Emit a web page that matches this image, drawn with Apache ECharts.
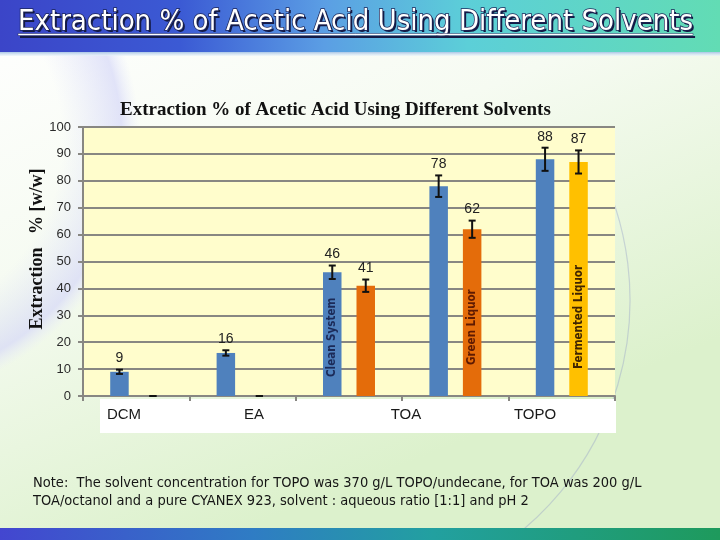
<!DOCTYPE html>
<html>
<head>
<meta charset="utf-8">
<script src="https://cdn.jsdelivr.net/npm/echarts@6/dist/echarts.min.js"></script>
<style>
  html, body { margin: 0; padding: 0; }
  #main { width: 720px; height: 540px; }
</style>
</head>
<body>
<div id="main"></div>
<script>
// ? 数据
const groups = ['DCM', 'EA', 'TOA-1', 'TOA-2', 'TOPO']
const axisLabels = ['DCM', 'EA', 'TOA', 'TOPO']
const firstBar = [9, 16, 46, 78, 88]
const firstErr = [0.8, 1, 2.5, 4, 4.3]
const secondBar = [0, 0, 41, 62, 87]
const secondErr = [0, 0, 2.3, 3.2, 4.3]
const firstNotes = ['', '', 'Clean System', '', '']
const secondNotes = ['', '', '', 'Green Liquor', 'Fermented Liquor']

const pageTitle = 'Extraction % of Acetic Acid Using Different Solvents'
const chartTitle = 'Extraction % of Acetic Acid Using Different Solvents'
const yName = 'Extraction   % [w/w]'
const noteLines = [
  'Note:  The solvent concentration for TOPO was 370 g/L TOPO/undecane, for TOA was 200 g/L',
  'TOA/octanol and a pure CYANEX 923, solvent : aqueous ratio [1:1] and pH 2'
]

// 样式
const BLUE = '#4F81BD'
const ORANGE = '#E46C0A'
const YELLOW = '#FFC000'
const GRID_GRAY = '#888782'
const BAR_W = 18.5
const GAP = 0.81
const OFFSET = (BAR_W + BAR_W * GAP) / 2
const narrow = '"Liberation Sans Narrow", "DejaVu Sans Condensed", sans-serif'
const serif = '"Liberation Serif", "Times New Roman", serif'

// 每根柱子里的竖排文字
const noteStyle = {
  'Clean System': { color: '#1B2A58', distance: 19 },
  'Green Liquor': { color: '#5E1A02', distance: 31 },
  'Fermented Liquor': { color: '#3F2400', distance: 27 }
}

function barData(values, notes, colorFn) {
  return values.map((v, i) => {
    const item = { value: v, itemStyle: { color: colorFn(i) } }
    if (notes[i]) {
      const s = noteStyle[notes[i]]
      item.label = {
        show: true,
        formatter: notes[i],
        position: 'insideBottom',
        rotate: 90,
        align: 'left',
        verticalAlign: 'middle',
        distance: s.distance,
        color: s.color,
        fontFamily: narrow,
        fontWeight: 'bold',
        fontSize: 11.5
      }
    }
    return item
  })
}

function errorSeries(values, errs, offset) {
  return {
    type: 'custom',
    z: 5,
    silent: true,
    data: values.map((v, i) => [i, v, errs[i]]),
    renderItem(params, api) {
      const i = api.value(0)
      const v = api.value(1)
      const e = api.value(2)
      const top = api.coord([i, v + e])
      const bot = api.coord([i, v - e])
      const x = top[0] + offset
      const st = { stroke: '#111', lineWidth: 2 }
      const children = [
        { type: 'line', shape: { x1: x, y1: top[1], x2: x, y2: bot[1] }, style: st },
        { type: 'line', shape: { x1: x - 3.5, y1: top[1], x2: x + 3.5, y2: top[1] }, style: st },
        { type: 'line', shape: { x1: x - 3.5, y1: bot[1], x2: x + 3.5, y2: bot[1] }, style: st }
      ]
      if (v > 0) {
        children.push({
          type: 'text',
          style: {
            text: String(v), x: x, y: top[1] - 11,
            align: 'center', verticalAlign: 'middle',
            font: '14px "Liberation Sans", Arial, sans-serif', fill: '#222'
          }
        })
      }
      return { type: 'group', children }
    }
  }
}

// ? 文字宽度
const ctx = document.createElement('canvas').getContext('2d')
const headFont = '29px ' + narrow
ctx.font = headFont
const headW = ctx.measureText(pageTitle).width

let myChart = echarts.init(document.querySelector('#main'))

myChart.setOption({
  animation: false,
  backgroundColor: {
    type: 'linear', x: 0, y: 0, x2: 0.3, y2: 1,
    colorStops: [
      { offset: 0, color: '#ffffff' },
      { offset: 0.45, color: '#f6fbf2' },
      { offset: 1, color: '#dcf1cc' }
    ]
  },
  title: {
    text: chartTitle,
    left: 115,
    top: 96,
    textStyle: { fontFamily: serif, fontWeight: 'bold', fontSize: 19, color: '#111' }
  },
  grid: {
    left: 83, top: 127, width: 532, height: 269,
    show: true, backgroundColor: '#FFFDCC', borderWidth: 0
  },
  xAxis: {
    type: 'category',
    data: groups,
    axisLine: { lineStyle: { color: GRID_GRAY, width: 2 } },
    axisTick: { show: true, length: 5, lineStyle: { color: GRID_GRAY, width: 2 } },
    axisLabel: { show: false }
  },
  yAxis: {
    type: 'value',
    min: 0, max: 100, interval: 10,
    axisLine: { show: true, lineStyle: { color: GRID_GRAY, width: 2 } },
    axisTick: { show: true, length: 5, lineStyle: { color: GRID_GRAY, width: 2 } },
    axisLabel: { margin: 12, fontFamily: '"Liberation Sans", Arial, sans-serif', fontSize: 13, color: '#2a2a2a' },
    splitLine: { lineStyle: { color: GRID_GRAY, width: 2 } }
  },
  series: [
    {
      type: 'bar', barWidth: BAR_W, barGap: (GAP * 100) + '%',
      data: barData(firstBar, firstNotes, () => BLUE)
    },
    {
      type: 'bar', barWidth: BAR_W,
      data: barData(secondBar, secondNotes, i => (i === secondBar.length - 1 ? YELLOW : ORANGE))
    },
    errorSeries(firstBar, firstErr, -OFFSET),
    errorSeries(secondBar, secondErr, OFFSET)
  ],
  graphic: [
    // 左上角淡紫色
    {
      type: 'circle', z: -10, silent: true,
      shape: { cx: -120, cy: 140, r: 260 },
      style: {
        fill: {
          type: 'radial', x: 0.5, y: 0.5, r: 0.5,
          colorStops: [{ offset: 0.7, color: 'rgba(220,222,250,0)' }, { offset: 0.93, color: 'rgba(214,216,248,0.7)' }, { offset: 1, color: 'rgba(230,232,252,0)' }]
        }
      }
    },
    {
      type: 'arc', z: -10, silent: true,
      shape: { cx: 330, cy: 300, r: 300, startAngle: -0.5, endAngle: 1.1 },
      style: { fill: 'none', stroke: 'rgba(150,160,200,0.4)', lineWidth: 1.2 }
    },
    // 顶部标题栏
    {
      type: 'rect', z: 10, silent: true,
      shape: { x: 0, y: 0, width: 720, height: 52 },
      style: {
        fill: {
          type: 'linear', x: 0, y: 0, x2: 1, y2: 0,
          colorStops: [
            { offset: 0, color: '#3b45c8' },
            { offset: 0.25, color: '#3b5ad4' },
            { offset: 0.45, color: '#5b9ee4' },
            { offset: 0.65, color: '#5ccfd8' },
            { offset: 1, color: '#62dcb4' }
          ]
        }
      }
    },
    {
      type: 'rect', z: 10, silent: true,
      shape: { x: 0, y: 52, width: 720, height: 4 },
      style: {
        fill: {
          type: 'linear', x: 0, y: 0, x2: 0, y2: 1,
          colorStops: [{ offset: 0, color: '#aac6e6' }, { offset: 1, color: 'rgba(235,245,250,0.6)' }]
        }
      }
    },
    {
      type: 'text', z: 11, silent: true,
      style: { text: pageTitle, x: 20, y: 24, font: headFont, fill: '#141a44', verticalAlign: 'middle' }
    },
    {
      type: 'rect', z: 11, silent: true,
      shape: { x: 20, y: 36, width: headW, height: 2 },
      style: { fill: '#141a44' }
    },
    {
      type: 'text', z: 12, silent: true,
      style: {
        text: pageTitle, x: 18, y: 22, font: headFont, verticalAlign: 'middle',
        fill: '#ffffff', stroke: '#1c2456', lineWidth: 1.5, strokeFirst: true
      }
    },
    {
      type: 'rect', z: 12, silent: true,
      shape: { x: 18, y: 33.5, width: headW, height: 2 },
      style: { fill: '#ffffff', stroke: '#1c2456', lineWidth: 0.5 }
    },
    // y 轴名称
    {
      type: 'text', silent: true,
      x: 37, y: 249, rotation: Math.PI / 2,
      style: {
        text: yName, align: 'center', verticalAlign: 'middle',
        font: 'bold 18px ' + serif, fill: '#111'
      }
    },
    // x 轴标签白框
    {
      type: 'rect', silent: true,
      shape: { x: 100, y: 399, width: 516, height: 34 },
      style: { fill: '#ffffff' }
    },
    ...axisLabels.map((t, k) => ({
      type: 'text', silent: true,
      style: {
        text: t, x: [124, 254, 406, 535][k], y: 415,
        align: 'center', verticalAlign: 'middle',
        font: '15px "Liberation Sans", Arial, sans-serif', fill: '#1a1a1a'
      }
    })),
    // 注释
    ...noteLines.map((t, k) => ({
      type: 'text', silent: true,
      style: {
        text: t, x: 33, y: 483 + k * 18, verticalAlign: 'middle',
        font: '14.5px ' + narrow, fill: '#151515'
      }
    })),
    // 底部色条
    {
      type: 'rect', silent: true,
      shape: { x: 0, y: 528, width: 720, height: 12 },
      style: {
        fill: {
          type: 'linear', x: 0, y: 0, x2: 1, y2: 0,
          colorStops: [
            { offset: 0, color: '#4346d0' },
            { offset: 0.35, color: '#2f7cc4' },
            { offset: 0.6, color: '#22a0a0' },
            { offset: 1, color: '#1e9a5c' }
          ]
        }
      }
    }
  ]
})

window.addEventListener('resize', () => {
  myChart.resize()
})
</script>
</body>
</html>
